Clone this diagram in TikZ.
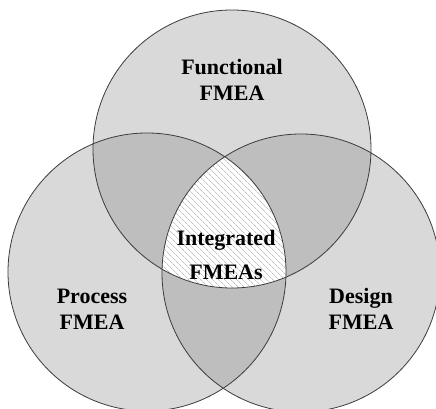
\documentclass[tikz,border=0pt]{standalone}
\usepackage{fontspec}
\setmainfont{Liberation Serif}
\usetikzlibrary{patterns.meta}

\definecolor{lightfill}{RGB}{217,217,217}
\definecolor{overlapfill}{RGB}{190,190,190}
\definecolor{rimgray}{RGB}{60,60,60}
\definecolor{hatchgray}{RGB}{195,195,195}

\begin{document}
\begin{tikzpicture}[x=1pt, y=-1pt,
    fmea text/.style={font=\bfseries\fontsize{22}{26}\selectfont, align=center, text=black},
    rim/.style={draw=rimgray, line width=0.8pt}]
    \def\circR{139pt}
    \useasboundingbox (0,0) rectangle (436,409);

    % circle centres
    \coordinate (FunctionalCentre) at (232,149);
    \coordinate (ProcessCentre) at (147,272);
    \coordinate (DesignCentre) at (301,273);

    % plain circles
    \fill[lightfill] (FunctionalCentre) circle (\circR);
    \fill[lightfill] (ProcessCentre) circle (\circR);
    \fill[lightfill] (DesignCentre) circle (\circR);

    % pairwise overlaps
    \begin{scope}
        \clip (FunctionalCentre) circle (\circR);
        \fill[overlapfill] (ProcessCentre) circle (\circR);
        \fill[overlapfill] (DesignCentre) circle (\circR);
    \end{scope}
    \begin{scope}
        \clip (ProcessCentre) circle (\circR);
        \fill[overlapfill] (DesignCentre) circle (\circR);
    \end{scope}

    % common part of all three
    \begin{scope}
        \clip (FunctionalCentre) circle (\circR);
        \clip (ProcessCentre) circle (\circR);
        \fill[white] (DesignCentre) circle (\circR);
        \fill[pattern={Lines[angle=-45, distance=4pt, line width=0.7pt]}, pattern color=hatchgray]
            (DesignCentre) circle (\circR);
    \end{scope}

    % outlines
    \draw[rim] (FunctionalCentre) circle (\circR);
    \draw[rim] (ProcessCentre) circle (\circR);
    \draw[rim] (DesignCentre) circle (\circR);

    % labels
    \node[fmea text] (Functional) at (232,80) {Functional\\FMEA};
    \node[fmea text] (Process) at (92,309) {Process\\FMEA};
    \node[fmea text] (Design) at (361,309) {Design\\FMEA};
    \node[fmea text] (Integrated) at (226,255) {Integrated\\[8pt]FMEAs};
\end{tikzpicture}
\end{document}
